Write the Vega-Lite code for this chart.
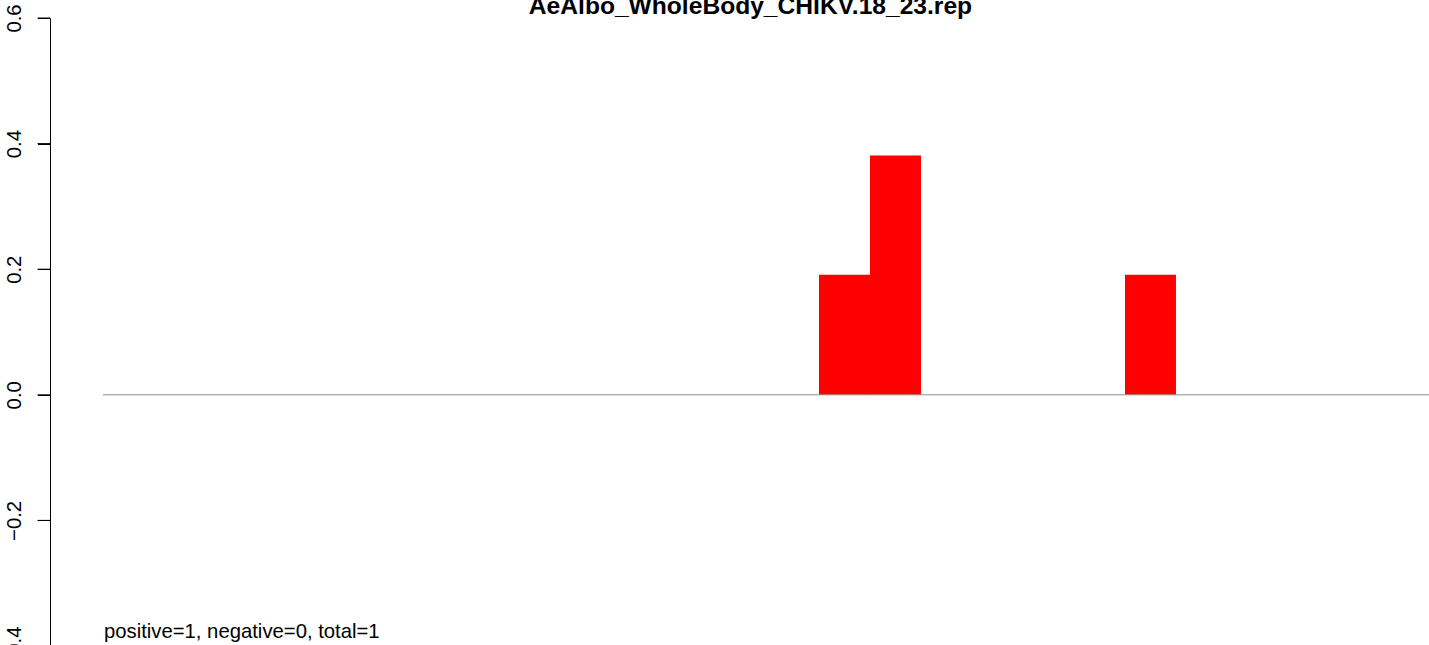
{
  "$schema": "https://vega.github.io/schema/vega-lite/v6.json",
  "autosize": {"type": "none"},
  "padding": {"left": 50, "top": 18, "right": 0, "bottom": 0},
  "width": 1379,
  "height": 628,
  "background": "white",
  "config": {
    "view": {"stroke": null},
    "font": "Liberation Sans"
  },
  "title": {
    "text": "AeAlbo_WholeBody_CHIKV.18_23.rep",
    "font": "Liberation Sans",
    "fontSize": 24.6,
    "fontWeight": "bold",
    "color": "black",
    "anchor": "middle",
    "frame": "group",
    "baseline": "alphabetic",
    "offset": 0,
    "dy": 34.5,
    "dx": 11
  },
  "datasets": {
    "bars": [
      {"bin": 14, "start": 14, "end": 15, "value": 0.191},
      {"bin": 15, "start": 15, "end": 16, "value": 0.381},
      {"bin": 20, "start": 20, "end": 21, "value": 0.191}
    ],
    "ticks": [
      {"tick": -0.4}, {"tick": -0.2}, {"tick": 0}, {"tick": 0.2}, {"tick": 0.4}, {"tick": 0.6}
    ],
    "note": [
      {"label": "positive=1, negative=0, total=1", "x": -0.02, "y": -0.3868}
    ]
  },
  "layer": [
    {
      "data": {"name": "bars"},
      "mark": {"type": "rect", "color": "#ff0000", "stroke": null},
      "encoding": {
        "x": {"field": "start", "type": "quantitative", "scale": {"domain": [-1.078, 25.961], "nice": false, "zero": false}, "axis": null},
        "x2": {"field": "end"},
        "y": {
          "field": "value",
          "type": "quantitative",
          "scale": {"domain": [-0.4, 0.6], "nice": false, "zero": false},
          "axis": {
            "title": null,
            "values": [-0.4, -0.2, 0, 0.2, 0.4, 0.6],
            "format": ".1f",
            "grid": false,
            "domain": true,
            "domainColor": "black",
            "domainWidth": 1,
            "ticks": true,
            "tickColor": "#000000",
            "tickWidth": 1,
            "tickSize": 12.5,
            "labelAngle": 270,
            "labelAlign": "center",
            "labelBaseline": "alphabetic",
            "labelPadding": 17,
            "labelFontSize": 20.3,
            "labelFont": "Liberation Sans",
            "labelColor": "black",
            "labelOverlap": false,
            "labelBound": false,
            "labelFlush": false
          }
        },
        "y2": {"datum": 0}
      }
    },
    {
      "data": {"name": "ticks"},
      "mark": {"type": "rule", "color": "black", "strokeWidth": 1, "clip": false},
      "encoding": {
        "x": {"datum": -1.323, "type": "quantitative"},
        "x2": {"datum": -1.078},
        "y": {"field": "tick", "type": "quantitative"}
      }
    },
    {
      "data": {"values": [{"y0": 0, "xa": -0.039, "xb": 25.961}]},
      "mark": {"type": "rule", "color": "#8c8c8c", "strokeWidth": 1},
      "encoding": {
        "x": {"field": "xa", "type": "quantitative"},
        "x2": {"field": "xb"},
        "y": {"field": "y0", "type": "quantitative"}
      }
    },
    {
      "data": {"name": "note"},
      "mark": {"type": "text", "align": "left", "baseline": "alphabetic", "fontSize": 20.3, "font": "Liberation Sans", "color": "black"},
      "encoding": {
        "x": {"field": "x", "type": "quantitative"},
        "y": {"field": "y", "type": "quantitative"},
        "text": {"field": "label"}
      }
    }
  ]
}
